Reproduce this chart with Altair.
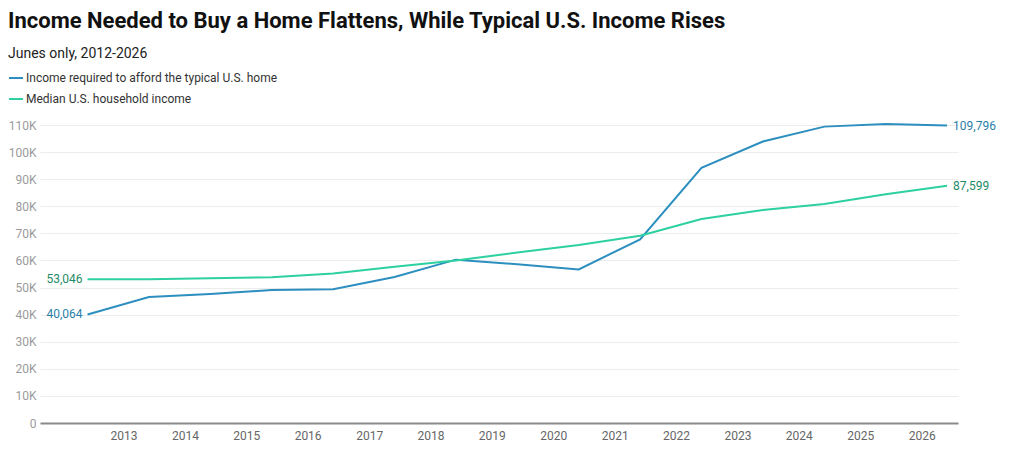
import altair as alt
import pandas as pd

years = list(range(2012, 2027))
required = [40064, 46500, 47600, 49100, 49400, 53900, 60300, 58600, 56700,
            67800, 94200, 103900, 109400, 110400, 109796]
median = [53046, 53100, 53400, 53800, 55200, 57700, 60000, 62900, 65700,
          69100, 75300, 78600, 80800, 84400, 87599]
series_names = ["Income required to afford the typical U.S. home",
                "Median U.S. household income"]
line_colors = ["#2c8fbf", "#2dd0a0"]
text_colors = ["#2a7fa9", "#1e8a68"]
tick_years = list(range(2013, 2027))

rows = []
for y, r, m in zip(years, required, median):
    rows.append({"date": f"{y}-06-01", "value": r, "series": series_names[0]})
    rows.append({"date": f"{y}-06-01", "value": m, "series": series_names[1]})
df = pd.DataFrame(rows)

lab_rows = []
for i, (name, vals) in enumerate([(series_names[0], required), (series_names[1], median)]):
    lab_rows.append({"date": f"{years[0]}-06-01", "value": vals[0], "label": f"{vals[0]:,}",
                     "tc": text_colors[i], "side": "left"})
    lab_rows.append({"date": f"{years[-1]}-06-01", "value": vals[-1], "label": f"{vals[-1]:,}",
                     "tc": text_colors[i], "side": "right"})
labels = pd.DataFrame(lab_rows)

FONT = "Roboto"

x_enc = alt.X("date:T",
              scale=alt.Scale(domain=[alt.DateTime(year=2011, month=8, date=23),
                                      alt.DateTime(year=2026, month=8, date=5)]),
              axis=alt.Axis(title=None, values=[alt.DateTime(year=y, month=1, date=1) for y in tick_years],
                            format="%Y", grid=False, ticks=False, domain=True,
                            domainColor="#8a8a8a", domainWidth=2,
                            labelColor="#666666", labelFontSize=12, labelFont=FONT,
                            labelPadding=7, labelFlush=False, labelOverlap=False))
y_enc = alt.Y("value:Q",
              scale=alt.Scale(domain=[0, 110000], nice=False),
              axis=alt.Axis(title=None, values=list(range(0, 110001, 10000)),
                            labelExpr="datum.value == 0 ? '0' : (datum.value/1000) + 'K'",
                            grid=True, gridColor="#ececec", ticks=False, domain=False,
                            labelColor="#9a9a9a", labelFontSize=12, labelFont=FONT,
                            labelPadding=4, labelOverlap=False))

lines = alt.Chart(df).mark_line(strokeWidth=2).encode(
    x=x_enc, y=y_enc,
    color=alt.Color("series:N",
                    scale=alt.Scale(domain=series_names, range=line_colors),
                    legend=alt.Legend(title=None, orient="none", legendX=-32, legendY=-55,
                                      symbolType="stroke", symbolSize=196, symbolStrokeWidth=2,
                                      labelFontSize=12, labelFont=FONT, labelColor="#333333",
                                      labelOffset=2, rowPadding=7, labelLimit=0))
)

left = alt.Chart(labels).transform_filter("datum.side == 'left'").mark_text(
    align="right", baseline="middle", dx=-5, fontSize=12, font=FONT
).encode(x=x_enc, y=y_enc, text="label:N", color=alt.Color("tc:N", scale=None))

right = alt.Chart(labels).transform_filter("datum.side == 'right'").mark_text(
    align="left", baseline="middle", dx=6, fontSize=12, font=FONT
).encode(x=x_enc, y=y_enc, text="label:N", color=alt.Color("tc:N", scale=None))

chart = alt.layer(lines, left, right).properties(
    width=918, height=298,
    autosize=alt.AutoSizeParams(type="none"),
    padding={"left": 32, "top": 117, "right": 50, "bottom": 30},
    background="white",
    title=alt.TitleParams(
        text="Income Needed to Buy a Home Flattens, While Typical U.S. Income Rises",
        subtitle="Junes only, 2012-2026",
        anchor="start", frame="group", dx=-32, offset=8,
        font=FONT, fontSize=22, fontWeight="bold", color="#111111",
        subtitleFont=FONT, subtitleFontSize=14, subtitleColor="#222222",
        subtitlePadding=14),
).configure_view(strokeWidth=0)

chart.save("out.html", embed_options={"renderer": "svg", "actions": False})
